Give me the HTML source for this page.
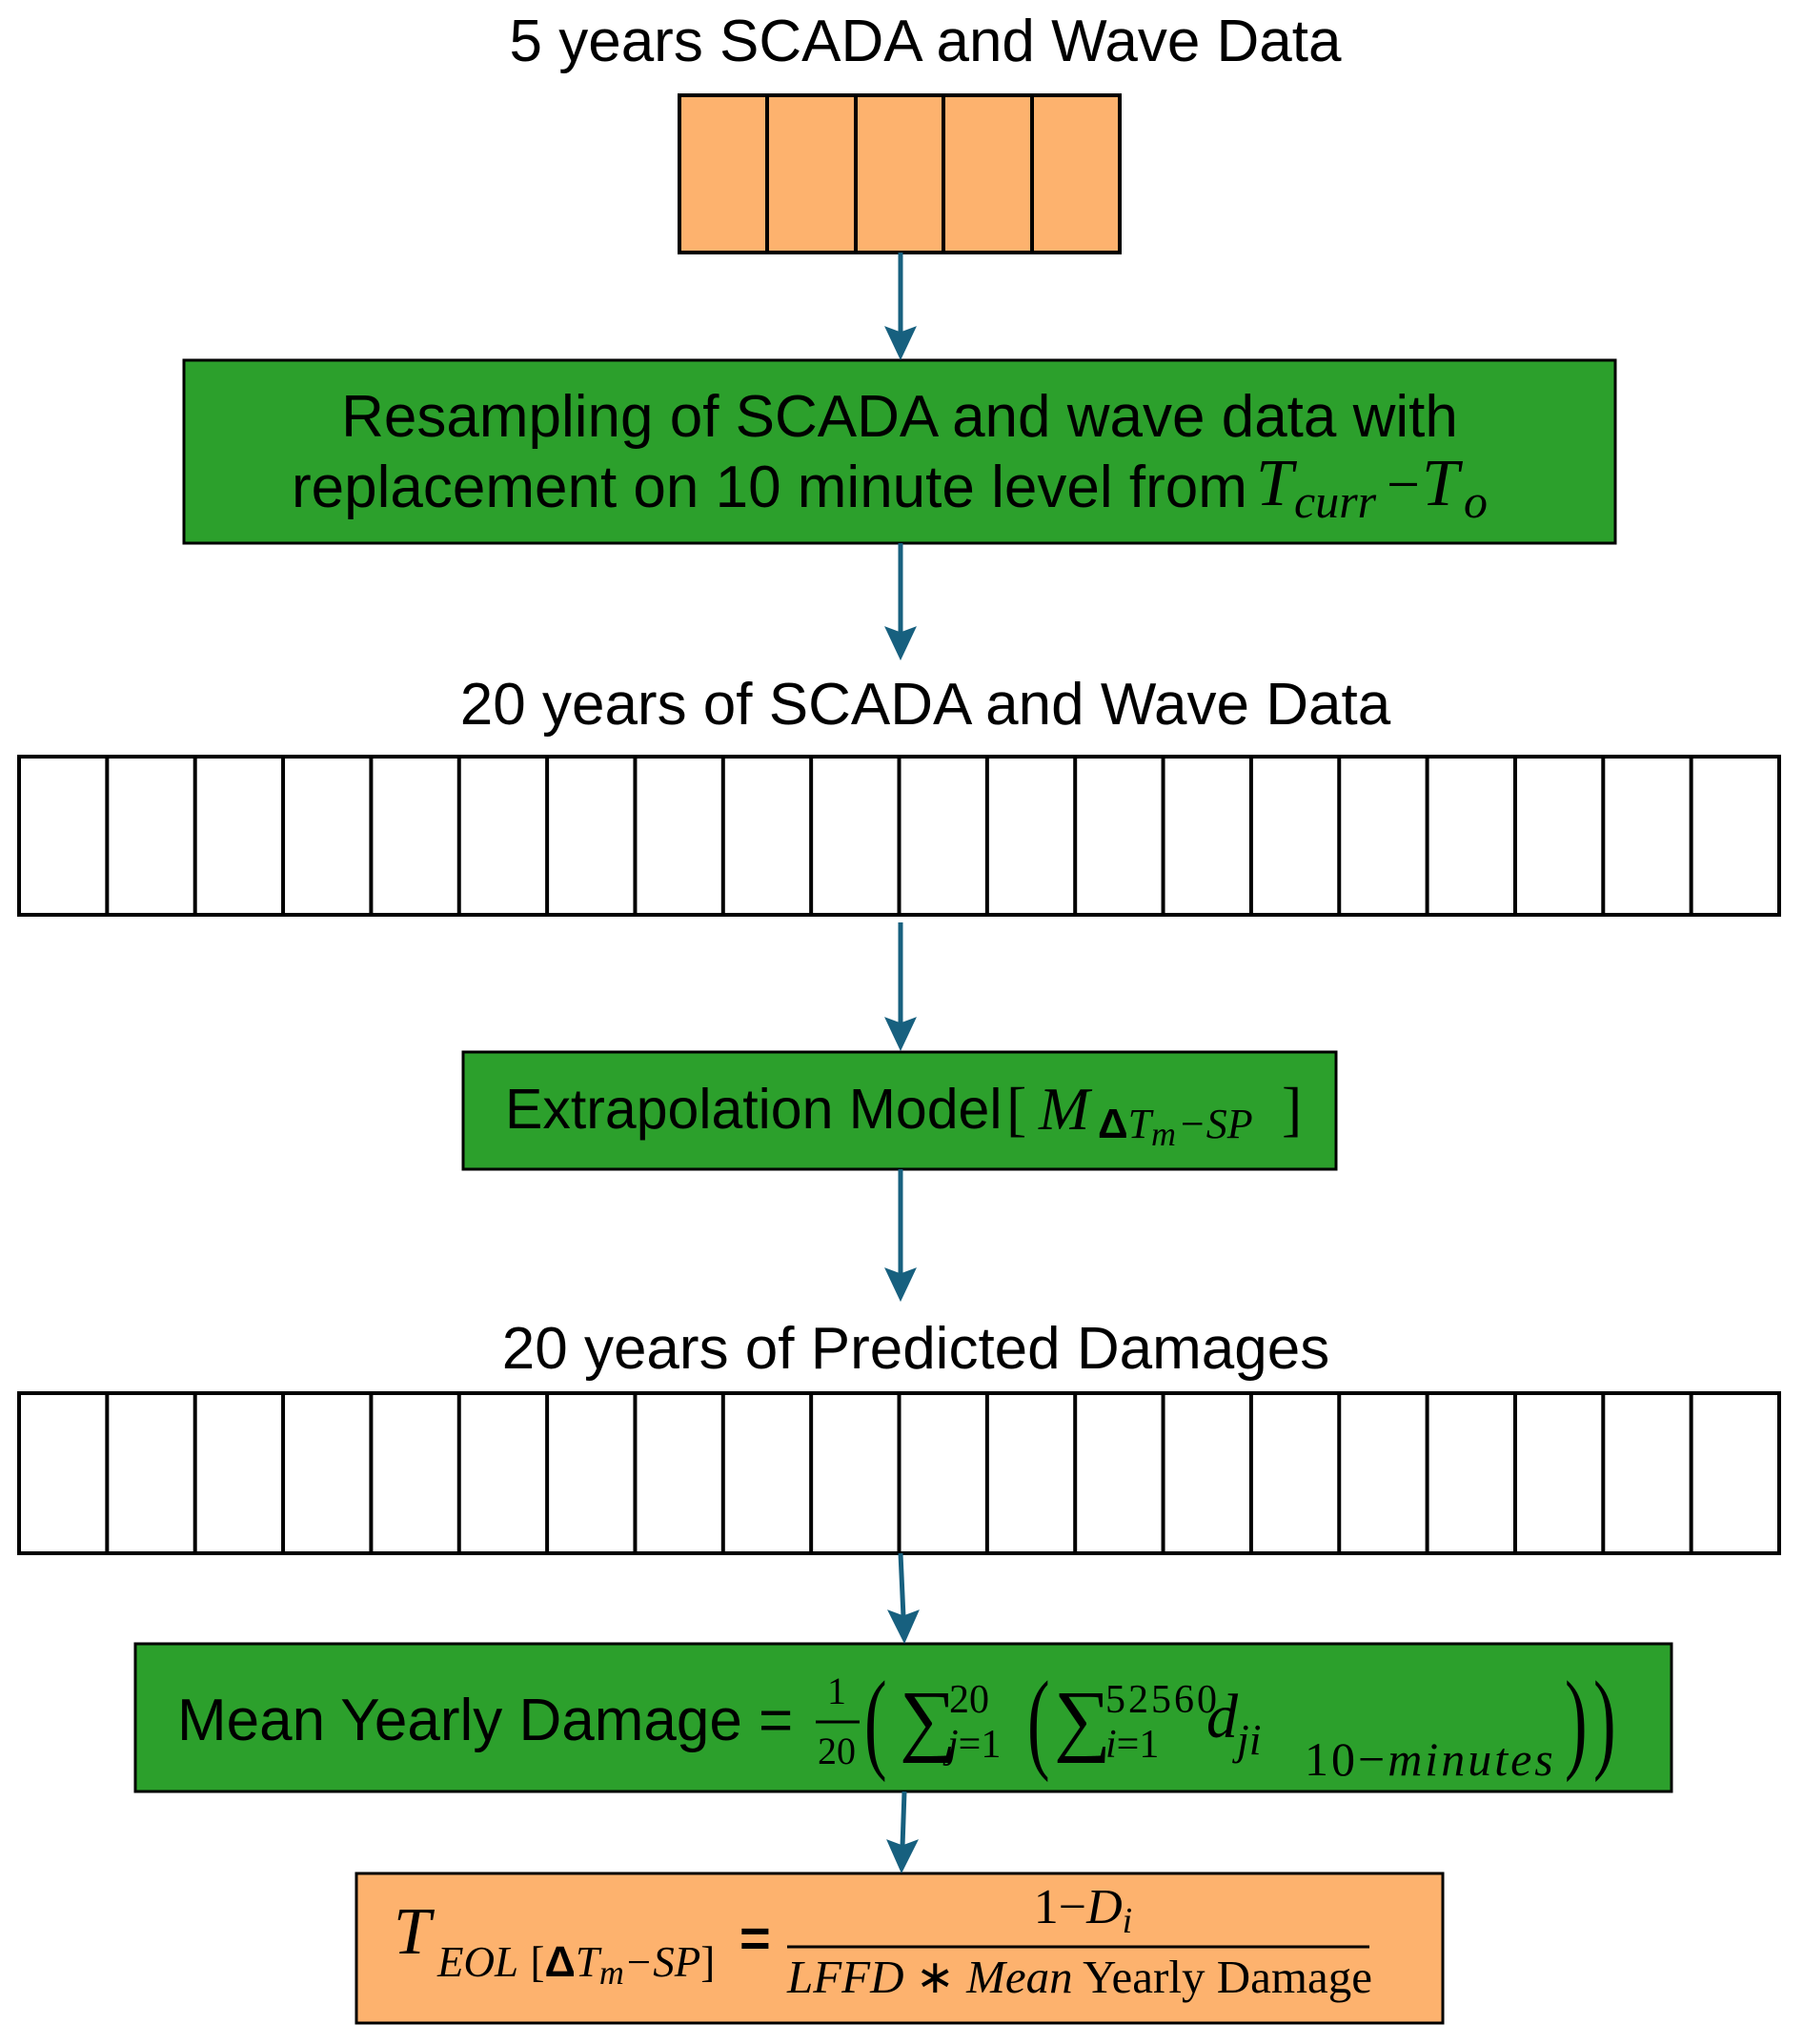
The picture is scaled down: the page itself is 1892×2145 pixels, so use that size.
<!DOCTYPE html>
<html><head><meta charset="utf-8"><style>
html,body{margin:0;padding:0;background:#fff;}
body{width:1892px;height:2145px;position:relative;overflow:hidden;font-family:"Liberation Sans",sans-serif;color:#000;}
.t{position:absolute;white-space:nowrap;line-height:1.15;}
.s{font-family:"Liberation Sans",sans-serif;}
.m{font-family:"Liberation Serif",serif;font-style:italic;}
.r{font-family:"Liberation Serif",serif;font-style:normal;}
</style></head><body>
<svg width="1892" height="2145" style="position:absolute;left:0;top:0">
<rect x="713" y="100" width="462" height="165" fill="#fdb26e" stroke="#000" stroke-width="4"/>
<g stroke="#000" stroke-width="4">
<line x1="805" y1="100" x2="805" y2="265"/><line x1="898" y1="100" x2="898" y2="265"/><line x1="990" y1="100" x2="990" y2="265"/><line x1="1083" y1="100" x2="1083" y2="265"/>
</g>
<rect x="193" y="378" width="1502" height="192" fill="#2ca02c" stroke="#000" stroke-width="3"/>
<rect x="20" y="794" width="1847" height="166" fill="#fff" stroke="#000" stroke-width="4"/>
<rect x="486" y="1104" width="916" height="123" fill="#2ca02c" stroke="#000" stroke-width="3"/>
<rect x="20" y="1462" width="1847" height="168" fill="#fff" stroke="#000" stroke-width="4"/>
<rect x="142" y="1725" width="1612" height="155" fill="#2ca02c" stroke="#000" stroke-width="3"/>
<rect x="374" y="1966" width="1140" height="157" fill="#fdb26e" stroke="#000" stroke-width="3"/>
<g stroke="#000" stroke-width="4" id="cells"></g>
<g stroke="#17607f" stroke-width="5" fill="#17607f">
<line x1="945" y1="265" x2="945" y2="350"/><path d="M929 343 L945 377 L961 343 L945 349Z" stroke-width="1"/>
<line x1="945" y1="570" x2="945" y2="665"/><path d="M929 658 L945 692 L961 658 L945 664Z" stroke-width="1"/>
<line x1="945" y1="968" x2="945" y2="1075"/><path d="M929 1068 L945 1102 L961 1068 L945 1074Z" stroke-width="1"/>
<line x1="945" y1="1227" x2="945" y2="1338"/><path d="M929 1331 L945 1365 L961 1331 L945 1337Z" stroke-width="1"/>
<line x1="945" y1="1630" x2="948" y2="1697"/><path d="M932 1690 L949 1724 L964 1690 L948 1696Z" stroke-width="1"/>
<line x1="949" y1="1880" x2="947" y2="1938"/><path d="M931 1931 L946 1965 L963 1931 L947 1937Z" stroke-width="1"/>
</g>
<line x1="856" y1="1807" x2="902" y2="1807" stroke="#000" stroke-width="3"/>
<line x1="826" y1="2043" x2="1437" y2="2043" stroke="#000" stroke-width="3"/>
</svg>
<script>
(function(){
 var ns='http://www.w3.org/2000/svg';
 var g=document.getElementById('cells');
 var w=1847/20;
 [[794,960],[1462,1630]].forEach(function(p){
  for(var i=1;i<20;i++){var x=20+w*i;var l=document.createElementNS(ns,'line');
   l.setAttribute('x1',x);l.setAttribute('x2',x);l.setAttribute('y1',p[0]);l.setAttribute('y2',p[1]);g.appendChild(l);}
 });
})();
</script>

<div class="t" style="left:471px;width:1000px;text-align:center;top:8px;font-size:62px;">5 years SCADA and Wave Data</div>
<div class="t" style="left:344px;width:1200px;text-align:center;top:402px;font-size:62px;">Resampling of SCADA and wave data with</div>
<div class="t" style="left:306px;top:476px;font-size:62px;">replacement on 10 minute level from</div>
<div class="t m" style="left:1318px;top:468px;font-size:70px;">T</div>
<div class="t m" style="left:1358px;top:498px;font-size:50px;">curr</div>
<div class="t r" style="left:1455px;top:474px;font-size:62px;">−</div>
<div class="t m" style="left:1492px;top:468px;font-size:70px;">T</div>
<div class="t m" style="left:1536px;top:498px;font-size:50px;">o</div>

<div class="t" style="left:421px;width:1100px;text-align:center;top:704px;font-size:62px;">20 years of SCADA and Wave Data</div>

<div class="t" style="left:530px;top:1131px;font-size:59px;">Extrapolation Model</div>
<div class="t r" style="left:1056px;top:1127px;font-size:64px;">[</div>
<div class="t m" style="left:1090px;top:1127px;font-size:64px;">M</div>
<div class="t" style="left:1152px;top:1155px;font-size:44px;"><b class="s">Δ</b><span class="m">T</span></div>
<div class="t m" style="left:1208px;top:1170px;font-size:36px;">m</div>
<div class="t m" style="left:1236px;top:1155px;font-size:44px;">−SP</div>
<div class="t r" style="left:1345px;top:1127px;font-size:64px;">]</div>

<div class="t" style="left:411px;width:1100px;text-align:center;top:1380px;font-size:62px;">20 years of Predicted Damages</div>

<div class="t" style="left:186px;top:1770px;font-size:62px;">Mean Yearly Damage =</div>
<div class="t r" style="left:850px;width:56px;text-align:center;top:1752px;font-size:40px;">1</div>
<div class="t r" style="left:850px;width:56px;text-align:center;top:1815px;font-size:40px;">20</div>
<div class="t r" style="left:907px;top:1738px;font-size:118px;transform:scaleX(0.6);transform-origin:left top;">(</div>
<div class="t r" style="left:944px;top:1757px;font-size:84px;">∑</div>
<div class="t r" style="left:996px;top:1760px;font-size:42px;">20</div>
<div class="t" style="left:994px;top:1806px;font-size:42px;"><span class="m">j</span><span class="r">=1</span></div>
<div class="t r" style="left:1078px;top:1738px;font-size:118px;transform:scaleX(0.6);transform-origin:left top;">(</div>
<div class="t r" style="left:1106px;top:1757px;font-size:84px;">∑</div>
<div class="t r" style="left:1160px;top:1760px;font-size:42px;letter-spacing:3px;">52560</div>
<div class="t" style="left:1160px;top:1806px;font-size:42px;"><span class="m">i</span><span class="r">=1</span></div>
<div class="t m" style="left:1266px;top:1764px;font-size:66px;">d</div>
<div class="t m" style="left:1298px;top:1800px;font-size:46px;">ji</div>
<div class="t" style="left:1369px;top:1818px;font-size:50px;letter-spacing:3px;"><span class="r">10−</span><span class="m">minutes</span></div>
<div class="t r" style="left:1642px;top:1738px;font-size:118px;transform:scaleX(0.6);transform-origin:left top;">)</div>
<div class="t r" style="left:1672px;top:1738px;font-size:118px;transform:scaleX(0.6);transform-origin:left top;">)</div>

<div class="t m" style="left:413px;top:1988px;font-size:70px;">T</div>
<div class="t" style="left:459px;top:2033px;font-size:45px;"><span class="m">EOL</span> <span class="r">[</span><b class="s">Δ</b><span class="m">T</span><span class="m" style="font-size:36px;position:relative;top:8px">m</span><span class="m">−SP</span><span class="r">]</span></div>
<div class="t s" style="left:776px;top:2002px;font-size:56px;font-weight:bold;">=</div>
<div class="t" style="left:826px;width:621px;text-align:center;top:1972px;font-size:52px;"><span class="r">1−</span><span class="m">D</span><span class="m" style="font-size:38px;position:relative;top:10px">i</span></div>
<div class="t" style="left:826px;width:611px;text-align:center;top:2047px;font-size:49px;"><span class="m">LFFD</span><span class="r"> ∗ </span><span class="m">Mean</span><span class="r"> Yearly Damage</span></div>
</body></html>
